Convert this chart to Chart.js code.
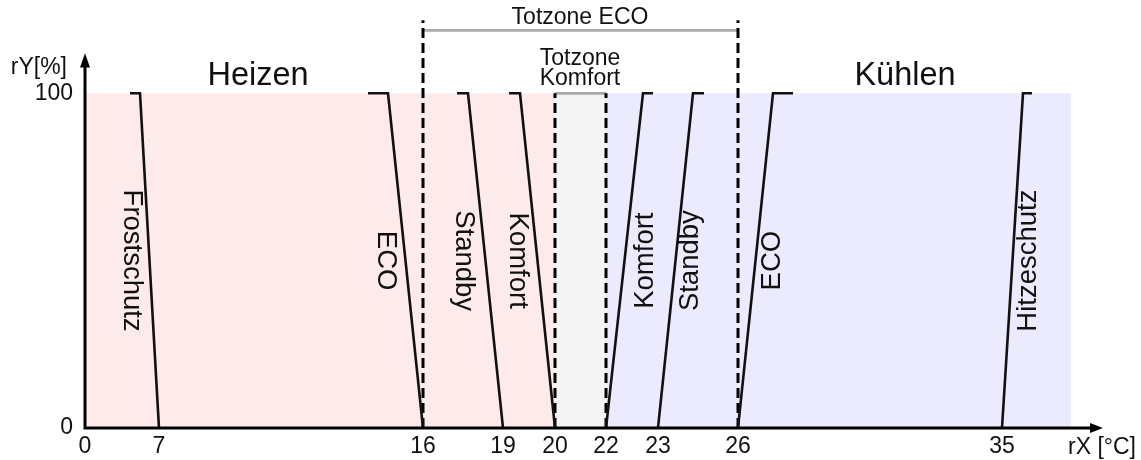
<!DOCTYPE html>
<html>
<head>
<meta charset="utf-8">
<script src="https://cdn.jsdelivr.net/npm/chart.js@4"></script>
<style>
  body { margin: 0; background: #fff; }
  canvas { display: block; }
</style>
</head>
<body>
<canvas id="chart" width="1141" height="460"></canvas>
<script>
// schematic x axis: positions along the axis, with the temperature shown at each tick
const tickPos = [0, 74, 338, 418, 470, 521, 573, 653, 917];
const tickLabels = ['0', '7', '16', '19', '20', '22', '23', '26', '35'];
const yTicks = [0, 100];

// heating curves: flat start, top corner, bottom
const heatY = [100, 100, 0];
const frostschutzX = [45, 55, 74];
const ecoHeizX = [283, 303, 338];
const standbyHeizX = [372, 383, 418];
const komfortHeizX = [424, 435, 470];

// cooling curves: bottom, top corner, flat end
const coolY = [0, 100, 100];
const komfortKuehlX = [521, 558, 568];
const standbyKuehlX = [573, 608, 619];
const ecoKuehlX = [653, 688, 708];
const hitzeschutzX = [917, 938, 947];

// zones (x from, x to) at 100 %
const heizZone = [0, 470];
const komfortZone = [470, 521];
const kuehlZone = [521, 986];
const ecoZone = [338, 653];

const curveNames = ['Frostschutz', 'ECO', 'Standby', 'Komfort', 'Komfort', 'Standby', 'ECO', 'Hitzeschutz'];
const curveLabelX = [47, 301, 379, 433, 560, 605, 687, 943];

const FONT = "'Liberation Sans', Arial, sans-serif";
const INK = '#111';

function pts(xs, ys) {
  return xs.map((x, i) => ({ x: x, y: ys[i] }));
}

function zone(range, color) {
  return {
    data: pts(range, [100, 100]),
    fill: 'origin',
    backgroundColor: color,
    borderColor: 'transparent',
    pointRadius: 0,
    order: 5
  };
}

function curve(xs, ys) {
  return {
    data: pts(xs, ys),
    borderColor: INK,
    borderWidth: 2.6,
    borderJoinStyle: 'miter',
    pointRadius: 0,
    fill: false,
    order: 0
  };
}

function vline(x, top) {
  return {
    data: pts([x, x], [0, top]),
    borderColor: '#000',
    borderWidth: 3,
    borderDash: [10, 5],
    pointRadius: 0,
    fill: false,
    order: 1
  };
}

function hline(range, y) {
  return {
    data: pts(range, [y, y]),
    borderColor: '#aaaaaa',
    borderWidth: 2.8,
    pointRadius: 0,
    fill: false,
    order: 2
  };
}

const textPlugin = {
  id: 'schemaText',
  afterDatasetsDraw(chart) {
    const ctx = chart.ctx;
    const xs = chart.scales.x, ys = chart.scales.y;
    const px = v => xs.getPixelForValue(v);
    const py = v => ys.getPixelForValue(v);
    ctx.save();

    // axes with arrows
    ctx.strokeStyle = '#000';
    ctx.fillStyle = '#000';
    ctx.lineWidth = 3;
    ctx.beginPath();
    ctx.moveTo(px(0), py(0));
    ctx.lineTo(px(0), py(108));
    ctx.moveTo(px(0) - 1.5, py(0));
    ctx.lineTo(px(1005), py(0));
    ctx.stroke();
    ctx.beginPath();
    ctx.moveTo(px(0), py(112));
    ctx.lineTo(px(0) - 5, py(108) + 1);
    ctx.lineTo(px(0) + 5, py(108) + 1);
    ctx.closePath();
    ctx.fill();
    ctx.beginPath();
    ctx.moveTo(px(1018), py(0));
    ctx.lineTo(px(1005), py(0) - 5);
    ctx.lineTo(px(1005), py(0) + 5);
    ctx.closePath();
    ctx.fill();

    ctx.fillStyle = INK;
    ctx.textAlign = 'center';
    ctx.textBaseline = 'alphabetic';
    ctx.font = '32.5px ' + FONT;
    ctx.fillText('Heizen', px(173), py(102.4));
    ctx.fillText('Kühlen', px(820), py(102.4));

    ctx.font = '23px ' + FONT;
    ctx.textBaseline = 'middle';
    ctx.fillText('Totzone ECO', px(495), py(122.5));
    ctx.fillText('Totzone', px(495), py(110.4));
    ctx.fillText('Komfort', px(495), py(104.4));

    ctx.textAlign = 'right';
    ctx.fillText('rY[%]', px(0) - 18, py(107.8));
    ctx.textAlign = 'left';
    ctx.fillText('rX [°C]', px(983), py(0) + 20);

    ctx.font = '27.5px ' + FONT;
    ctx.textAlign = 'center';
    curveNames.forEach((name, i) => {
      ctx.save();
      ctx.translate(px(curveLabelX[i]), py(50));
      ctx.rotate(i < 4 ? Math.PI / 2 : -Math.PI / 2);
      ctx.fillText(name, 0, 0);
      ctx.restore();
    });
    ctx.restore();
  }
};

new Chart(document.getElementById('chart'), {
  type: 'line',
  data: {
    datasets: [
      zone(heizZone, '#fdeaea'),
      zone(komfortZone, '#f4f4f4'),
      zone(kuehlZone, '#ebebfd'),
      hline(ecoZone, 118.8),
      hline(komfortZone, 100),
      vline(ecoZone[0], 121.8),
      vline(ecoZone[1], 121.8),
      vline(komfortZone[0], 100),
      vline(komfortZone[1], 100),
      curve(frostschutzX, heatY),
      curve(ecoHeizX, heatY),
      curve(standbyHeizX, heatY),
      curve(komfortHeizX, heatY),
      curve(komfortKuehlX, coolY),
      curve(standbyKuehlX, coolY),
      curve(ecoKuehlX, coolY),
      curve(hitzeschutzX, coolY)
    ]
  },
  options: {
    responsive: false,
    animation: false,
    devicePixelRatio: 1,
    layout: { padding: { top: 13, right: 38, left: 0, bottom: 0 } },
    plugins: { legend: { display: false }, tooltip: { enabled: false } },
    scales: {
      x: {
        type: 'linear',
        min: 0,
        max: 1018,
        grid: { display: false, drawTicks: false },
        border: { display: false },
        afterBuildTicks: s => { s.ticks = tickPos.map(v => ({ value: v })); },
        afterFit: s => { s.height = 32; s.paddingLeft = 0; s.paddingRight = 0; },
        ticks: {
          autoSkip: false,
          maxRotation: 0,
          padding: 5,
          color: INK,
          font: { size: 23, family: FONT },
          callback: (v, i) => tickLabels[i]
        }
      },
      y: {
        min: 0,
        max: 124,
        grid: { display: false, drawTicks: false },
        border: { display: false },
        afterBuildTicks: s => { s.ticks = yTicks.map(v => ({ value: v })); },
        afterFit: s => { s.width = 85; s.paddingTop = 0; s.paddingBottom = 0; },
        ticks: {
          padding: 12,
          color: INK,
          font: { size: 23, family: FONT }
        }
      }
    }
  },
  plugins: [textPlugin]
});
</script>
</body>
</html>
